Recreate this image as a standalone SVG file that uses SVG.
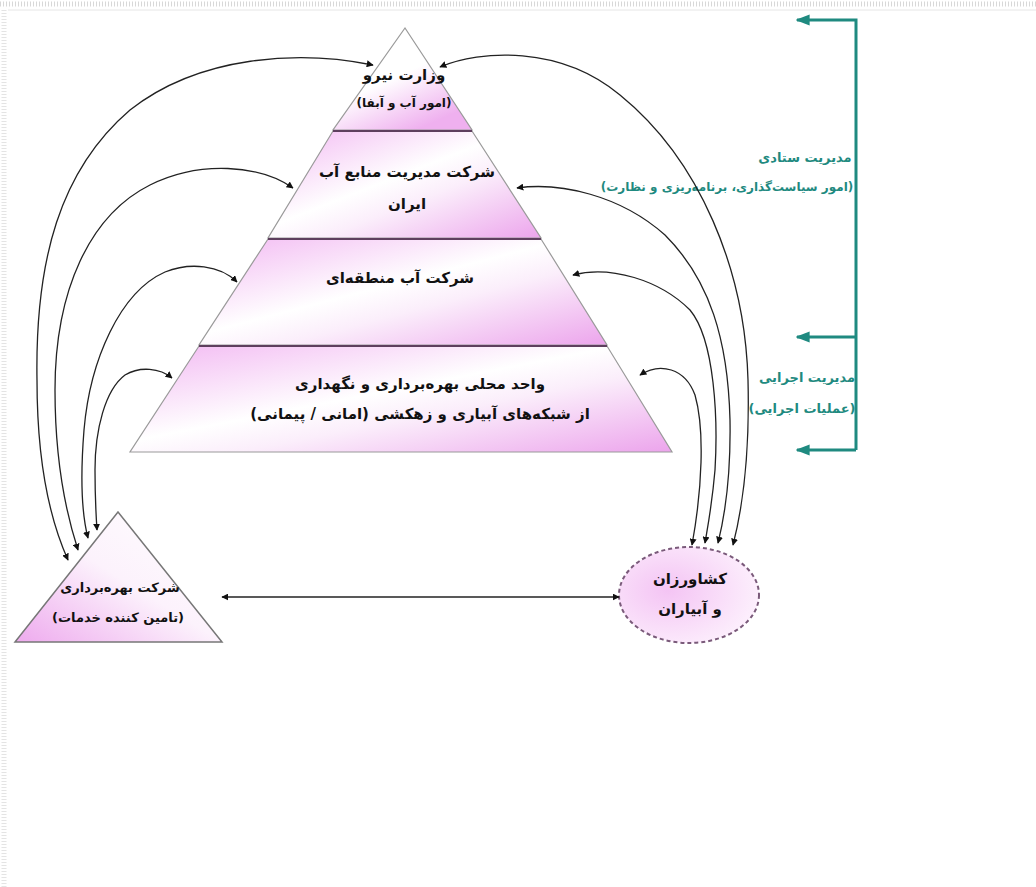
<svg xmlns="http://www.w3.org/2000/svg" width="1036" height="887" viewBox="0 0 1036 887">
<defs>
<linearGradient id="gLayer" x1="0" y1="0" x2="1" y2="1">
<stop offset="0" stop-color="#f2b8f2"/>
<stop offset="0.45" stop-color="#ffffff"/>
<stop offset="0.6" stop-color="#fbeefb"/>
<stop offset="1" stop-color="#eca4ec"/>
</linearGradient>
<linearGradient id="gTop" x1="0" y1="0" x2="0.6" y2="1">
<stop offset="0" stop-color="#ffffff"/>
<stop offset="0.55" stop-color="#ffffff"/>
<stop offset="1" stop-color="#efb0ef"/>
</linearGradient>
<linearGradient id="gSmall" x1="1" y1="0" x2="0" y2="1">
<stop offset="0" stop-color="#ffffff"/>
<stop offset="0.5" stop-color="#fcf2fc"/>
<stop offset="1" stop-color="#eeaaee"/>
</linearGradient>
<radialGradient id="gEll" cx="0.35" cy="0.45" r="0.7">
<stop offset="0" stop-color="#f4c4f4"/>
<stop offset="1" stop-color="#fdf2fd"/>
</radialGradient>
<marker id="ah" viewBox="0 0 10 10" refX="9" refY="5" markerWidth="7" markerHeight="7" orient="auto-start-reverse" markerUnits="userSpaceOnUse">
<path d="M0,0 L10,5 L0,10 z" fill="#111"/>
</marker>
<marker id="ahT" viewBox="0 0 10 10" refX="9" refY="5" markerWidth="14" markerHeight="14" orient="auto" markerUnits="userSpaceOnUse">
<path d="M0,1 L10,5 L0,9 z" fill="#1f8a80"/>
</marker>
<style>
.lay{stroke:#9a9a9a;stroke-width:1.2}
.sep{stroke:#5e3f5e;stroke-width:2}
.t{font-family:"DejaVu Sans",sans-serif;font-weight:bold;fill:#111;text-anchor:middle}
.tt{font-family:"DejaVu Sans",sans-serif;font-weight:bold;fill:#1f8a80;text-anchor:middle}
.c{fill:none;stroke:#222;stroke-width:1.3;marker-start:url(#ah);marker-end:url(#ah)}
.br{fill:none;stroke:#1f8a80;stroke-width:3}
</style>
</defs>
<rect width="1036" height="887" fill="#ffffff"/>
<g id="frame">
<line x1="0" y1="4" x2="1036" y2="4" stroke="#d8d8d8" stroke-width="5" stroke-dasharray="1 2"/>
<line x1="4" y1="10" x2="4" y2="887" stroke="#e4e4e4" stroke-width="5" stroke-dasharray="1 2"/>
<line x1="8" y1="10" x2="1036" y2="10" stroke="#e6e6e6" stroke-width="1"/>
</g>
<g id="layer1">
<polygon class="lay" points="405,28 472,130 333,130" fill="url(#gTop)"/>
<text class="t" x="404" y="80" font-size="15" direction="rtl">وزارت نیرو</text>
<text class="t" x="404" y="107" font-size="12" direction="rtl">(امور آب و آبفا)</text>
</g>
<g id="layer2">
<polygon class="lay" points="333,131 472,131 541,238 268,238" fill="url(#gLayer)"/>
<line class="sep" x1="333" y1="131" x2="472" y2="131"/>
<text class="t" x="407" y="177" font-size="15" direction="rtl">شرکت مدیریت منابع آب</text>
<text class="t" x="407" y="209" font-size="15" direction="rtl">ایران</text>
</g>
<g id="layer3">
<polygon class="lay" points="268,239 541,239 607,345 199,345" fill="url(#gLayer)"/>
<line class="sep" x1="268" y1="239" x2="541" y2="239"/>
<text class="t" x="400" y="283" font-size="15" direction="rtl">شرکت آب منطقه‌ای</text>
</g>
<g id="layer4">
<polygon class="lay" points="199,346 607,346 672,452 130,452" fill="url(#gLayer)"/>
<line class="sep" x1="199" y1="346" x2="607" y2="346"/>
<text class="t" x="420" y="389" font-size="15" direction="rtl">واحد محلی بهره‌برداری و نگهداری</text>
<text class="t" x="420" y="419" font-size="15" direction="rtl">از شبکه‌های آبیاری و زهکشی (امانی / پیمانی)</text>
</g>
<g id="company">
<polygon points="118,512 222,642 15,642" fill="url(#gSmall)" stroke="#777" stroke-width="1.5"/>
<text class="t" x="120" y="592" font-size="13" direction="rtl">شرکت بهره‌برداری</text>
<text class="t" x="118" y="622" font-size="13" direction="rtl">(تامین کننده خدمات)</text>
</g>
<g id="farmers">
<ellipse cx="689" cy="595" rx="70" ry="48" fill="url(#gEll)" stroke="#7a5a7a" stroke-width="2" stroke-dasharray="4 3"/>
<text class="t" x="690" y="584" font-size="15" direction="rtl">کشاورزان</text>
<text class="t" x="690" y="614" font-size="15" direction="rtl">و آبیاران</text>
</g>
<g id="management">
<path class="br" d="M856,450 L856,20 L797,20" marker-end="url(#ahT)"/>
<path class="br" d="M856,337 L797,337" marker-end="url(#ahT)"/>
<path class="br" d="M856,450 L797,450" marker-end="url(#ahT)"/>
<text class="tt" x="805" y="162" font-size="13" direction="rtl">مدیریت ستادی</text>
<text class="tt" x="727" y="191" font-size="12" direction="rtl">(امور سیاست‌گذاری، برنامه‌ریزی و نظارت)</text>
<text class="tt" x="807" y="382" font-size="13" direction="rtl">مدیریت اجرایی</text>
<text class="tt" x="802" y="413" font-size="13" direction="rtl">(عملیات اجرایی)</text>
</g>
<g id="connectors">
<path class="c" d="M373,65 C300,50 200,55 130,110 C60,170 35,260 37,380 C37,460 50,520 68,560"/>
<path class="c" d="M293,188 C260,165 200,160 150,185 C90,215 55,290 55,390 C55,460 65,510 78,550"/>
<path class="c" d="M237,282 C220,265 190,262 165,272 C120,292 90,360 84,430 C80,480 82,515 88,538"/>
<path class="c" d="M172,378 C160,368 140,366 125,375 C105,390 95,430 95,470 C95,500 96,515 97,530"/>
<path class="c" d="M440,67 C480,50 560,45 620,95 C700,160 745,270 748,380 C750,460 742,510 733,545"/>
<path class="c" d="M517,188 C560,182 620,195 665,235 C710,280 728,340 730,420 C731,480 725,515 718,543"/>
<path class="c" d="M573,275 C610,265 660,280 690,310 C715,340 718,420 715,470 C712,505 708,525 705,543"/>
<path class="c" d="M640,375 C660,362 685,368 695,395 C705,430 702,490 692,545"/>
<path class="c" d="M222,597 L619,597"/>
</g>
</svg>
